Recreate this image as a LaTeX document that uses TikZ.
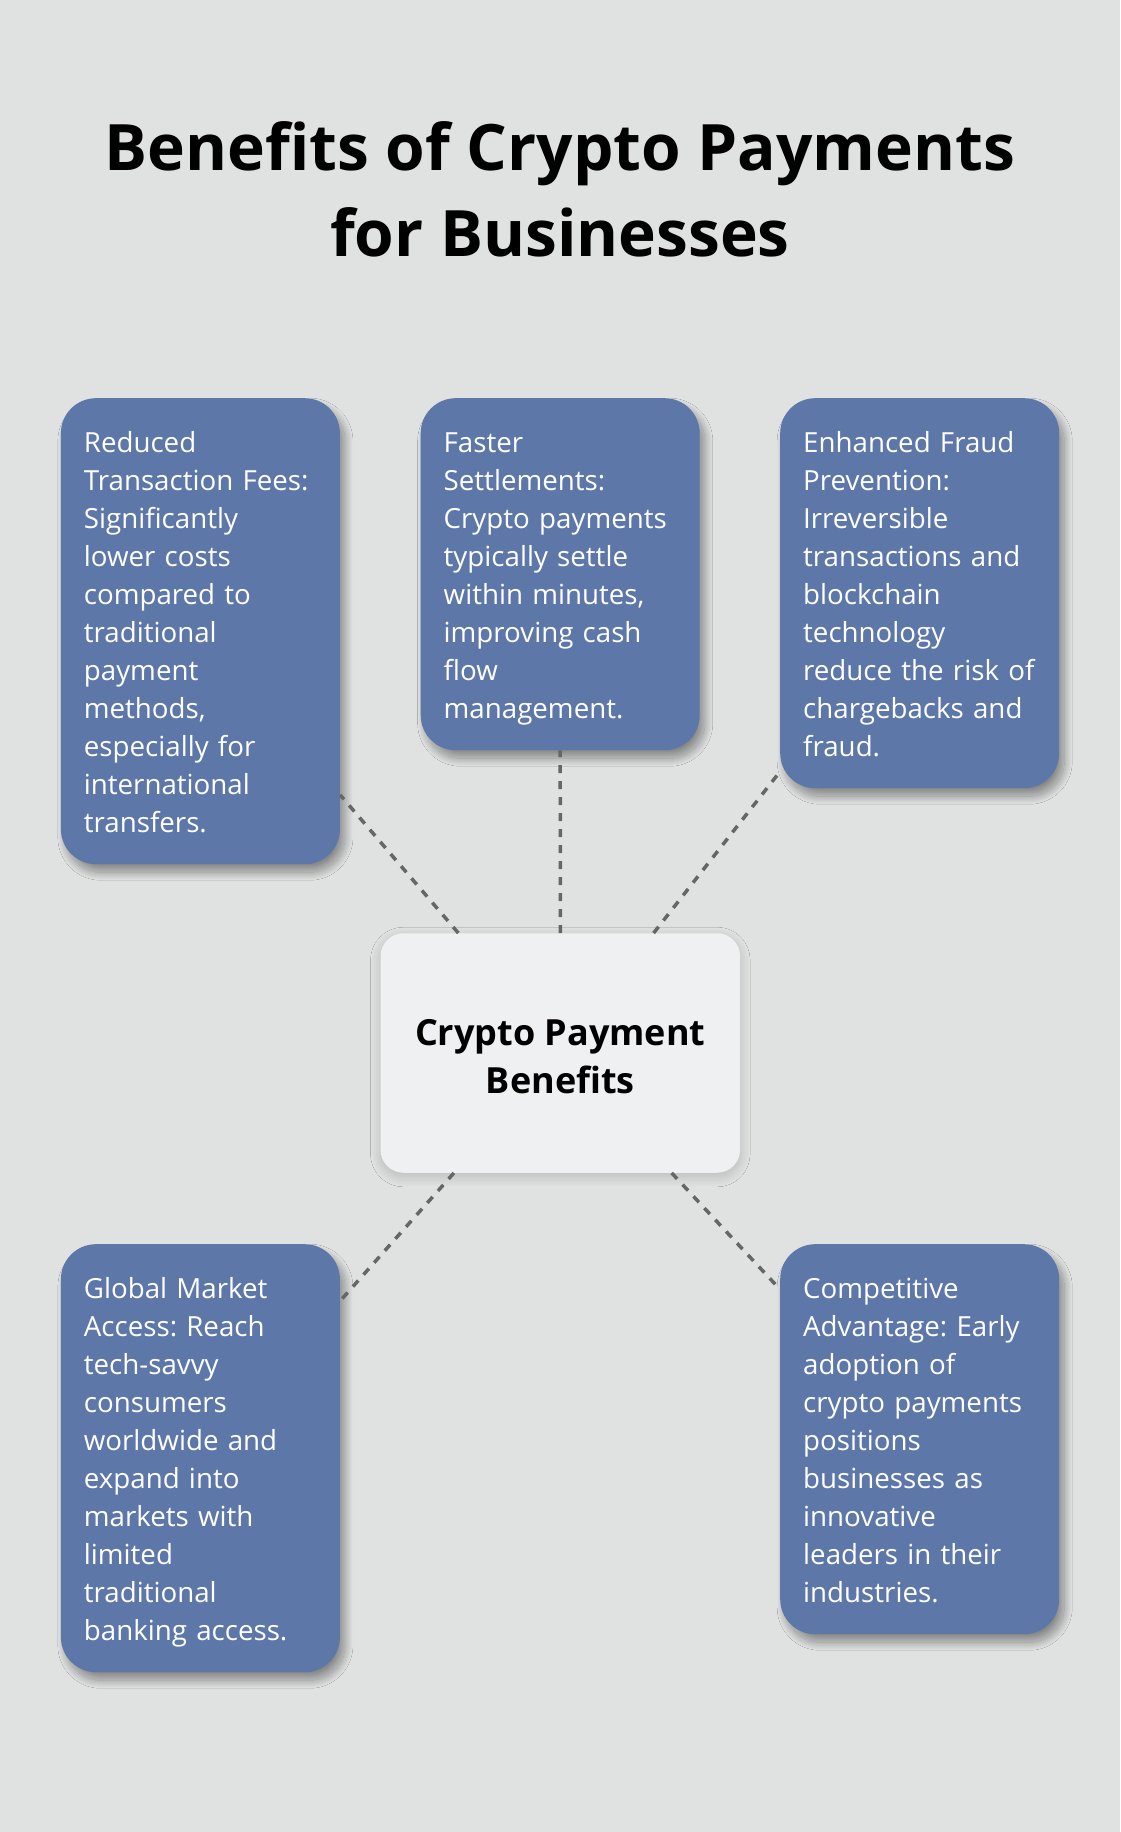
\documentclass[tikz,border=0pt]{standalone}
\usepackage{fontspec}
\setmainfont{Open Sans}
\usetikzlibrary{shadows.blur}
\definecolor{bggray}{HTML}{E0E2E1}
\definecolor{cardblue}{HTML}{5D77A8}
\definecolor{hubfill}{HTML}{EFF0F2}
\definecolor{dashgray}{HTML}{666666}
\newcommand{\cardtop}{\rule{0pt}{34.5pt}}
\newcommand{\cardbot}{\rule[-11.5pt]{0pt}{11.5pt}}
\tikzset{
  card/.style={anchor=north west, fill=cardblue, rounded corners=35pt,
    text=white, text width=233pt, inner xsep=23pt, inner ysep=20pt,
    align=left, font=\fontsize{27.7}{38}\selectfont\frenchspacing,
    blur shadow={shadow xshift=5pt, shadow yshift=-8pt, shadow blur radius=8pt,
      shadow blur steps=30, shadow opacity=40}},
  hub/.style={fill=hubfill, rounded corners=23pt, minimum width=359.5pt,
    minimum height=239.5pt, align=center, font=\fontsize{36}{48}\selectfont\bfseries,
    blur shadow={shadow xshift=0pt, shadow yshift=-4pt, shadow blur radius=10pt,
      shadow blur steps=30, shadow opacity=18}},
  link/.style={draw=dashgray, line width=3.5pt, dash pattern=on 8pt off 8pt},
}
\begin{document}
\begin{tikzpicture}[x=1pt, y=-1pt]
      \fill[bggray] (0,0) rectangle (1120,1832);   % background
      \useasboundingbox (0,0) rectangle (1120,1832);
      %
      \node[anchor=base, align=center, font=\fontsize{64}{86}\selectfont\bfseries]
        (title) at (560,256.7) {Benefits of Crypto Payments\\for Businesses};
      %
      \node[hub] (hub) at (560.3,1053) {\rule{0pt}{34pt}Crypto Payment\\Benefits};   % centre
      %
      \node[card] (fees) at (60.7,398) {\cardtop Reduced\\Transaction Fees:\\Significantly\\lower costs\\compared to\\traditional\\payment\\methods,\\especially for\\international\\transfers.\cardbot};   % top row
      \node[card] (speed) at (420.5,398) {\cardtop Faster\\Settlements:\\Crypto payments\\typically settle\\within minutes,\\improving cash\\flow\\management.\cardbot};
      \node[card] (fraud) at (780,398) {\cardtop Enhanced Fraud\\Prevention:\\Irreversible\\transactions and\\blockchain\\technology\\reduce the risk of\\chargebacks and\\fraud.\cardbot};
      %
      \node[card] (market) at (60.7,1244) {\cardtop Global Market\\Access: Reach\\tech-savvy\\consumers\\worldwide and\\expand into\\markets with\\limited\\traditional\\banking access.\cardbot};   % bottom row
      \node[card] (edge) at (780,1244) {\cardtop Competitive\\Advantage: Early\\adoption of\\crypto payments\\positions\\businesses as\\innovative\\leaders in their\\industries.\cardbot};
      %
      \draw[link] (hub) -- (fees);     % links
      \draw[link] (hub) -- (speed);
      \draw[link] (hub) -- (fraud);
      \draw[link] (hub) -- (market);
      \draw[link] (hub) -- (edge);
    \end{tikzpicture}
\end{document}
